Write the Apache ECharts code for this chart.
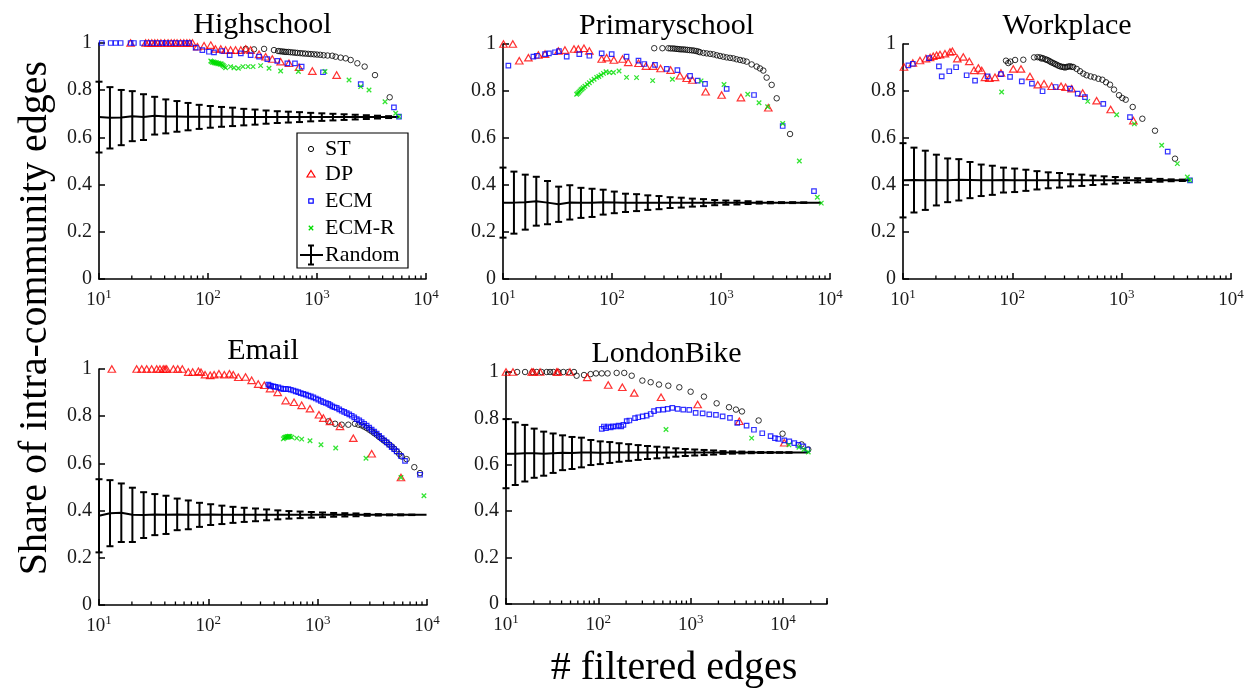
<!DOCTYPE html>
<html>
<head>
<meta charset="utf-8">
<script src="https://cdn.jsdelivr.net/npm/echarts@6/dist/echarts.min.js"></script>
<style>
  html, body { margin: 0; padding: 0; background: #fff; }
  #chart { width: 1253px; height: 694px; }
</style>
</head>
<body>
<div id="chart"></div>
<script>
// ---- shared sampling points of the random-filter baseline ----
const RANDOM_STEPS = [10,12.6,16.0,20.2,25.6,32.4,41.0,51.9,65.6,83.0,105,133,168,213,270,341,432,546,691,875,1107,1400,1772,2242,2836,3588,4539,5743,7265,9191,11627,14710,18610];

const PANEL_TITLES = ['Highschool', 'Primaryschool', 'Workplace', 'Email', 'LondonBike'];
const X_MAX = [10000, 10000, 10000, 10000, 30000];
const TOTAL_EDGES = [5650, 8318, 4217, 9900, 18800];
const Y_TICKS = [0, 0.2, 0.4, 0.6, 0.8, 1];

// ---- Highschool ----
const highschoolST = [[222,0.975],[264,0.973],[327,0.975],[403,0.970],[440,0.966],[460,0.965],[480,0.964],[500,0.963],[520,0.962],[545,0.962],[570,0.961],[600,0.960],[630,0.959],[660,0.958],[700,0.957],[740,0.956],[780,0.955],[830,0.954],[880,0.953],[940,0.952],[1000,0.951],[1070,0.950],[1150,0.948],[1250,0.947],[1380,0.946],[1483,0.942],[1648,0.938],[1833,0.935],[2037,0.928],[2346,0.914],[2737,0.900],[3404,0.864],[4645,0.770]];
const highschoolDP = [[19.5,1],[26.8,1],[28.5,1],[30.5,1],[32.5,1],[34.5,1],[37,1],[40,1],[43,1],[46,1],[49,1],[52,1],[56,1],[60,1],[64,1],[68,1],[72,1],[80,0.984],[92,0.988],[106,0.991],[117,0.975],[131,0.975],[145,0.970],[161,0.970],[179,0.970],[200,0.970],[222,0.975],[246,0.970],[294,0.952],[338,0.942],[389,0.932],[464,0.921],[553,0.914],[684,0.897],[906,0.881],[1514,0.864]];
const highschoolECM = [[10.6,1],[12.8,1],[14.2,1],[15.8,1],[19.5,1],[20.9,1],[25,1],[27.8,1],[30.8,1],[34.3,1],[38.1,1],[40.9,1],[45.4,1],[50.5,1],[56.1,1],[62.4,1],[67,1],[77,0.980],[88.7,0.970],[102,0.963],[113.5,0.960],[135,0.966],[158,0.949],[200,0.956],[246,0.949],[294,0.942],[350,0.932],[432,0.924],[535,0.914],[628,0.914],[723,0.900],[1135,0.876],[2518,0.826],[5080,0.727],[5650,0.688]];
const highschoolECMR = [[106,0.924],[108,0.921],[110,0.918],[112,0.920],[114,0.916],[116,0.918],[118,0.914],[120,0.916],[123,0.912],[126,0.914],[129,0.910],[132,0.912],[135,0.908],[138,0.905],[141,0.900],[145,0.895],[161,0.900],[173,0.895],[190,0.893],[209,0.900],[233,0.900],[259,0.900],[304,0.904],[363,0.893],[464,0.881],[675,0.879],[1183,0.879],[1967,0.843],[2518,0.815],[3001,0.801],[4207,0.751],[5270,0.702],[5650,0.688]];
const highschoolRandMean = [0.686,0.683,0.684,0.690,0.686,0.692,0.689,0.689,0.688,0.687,0.687,0.687,0.687,0.686,0.686,0.686,0.686,0.686,0.686,0.686,0.686,0.686,0.686,0.686,0.686,0.686,0.686,0.686];
const highschoolRandErr = [0.150,0.130,0.117,0.106,0.097,0.080,0.072,0.065,0.058,0.051,0.046,0.042,0.039,0.035,0.032,0.028,0.025,0.023,0.021,0.018,0.016,0.014,0.012,0.010,0.008,0.006,0.004,0];

// ---- Primaryschool ----
const primaryST = [[244,0.982],[290,0.982],[329,0.982],[345,0.981],[362,0.981],[378,0.980],[395,0.979],[412,0.978],[430,0.977],[450,0.977],[470,0.976],[492,0.975],[515,0.974],[540,0.973],[565,0.972],[592,0.970],[620,0.968],[641,0.965],[690,0.962],[739,0.960],[795,0.958],[851,0.956],[915,0.952],[980,0.949],[1050,0.946],[1127,0.943],[1210,0.941],[1297,0.939],[1390,0.935],[1494,0.932],[1600,0.929],[1719,0.925],[1910,0.913],[2124,0.904],[2279,0.896],[2445,0.887],[2623,0.857],[2917,0.826],[3243,0.769],[4299,0.617]];
const primaryDP = [[10.1,1],[12.3,1],[14.1,0.929],[17.1,0.942],[21.1,0.953],[24.3,0.957],[32.2,0.970],[37,0.974],[44.8,0.979],[49.1,0.979],[55.3,0.982],[62,0.970],[80.4,0.936],[89.3,0.942],[104,0.932],[125,0.936],[141,0.922],[175,0.918],[205,0.906],[239,0.906],[279,0.896],[345,0.889],[420,0.865],[484,0.854],[546,0.847],[723,0.797],[1013,0.783],[1524,0.772],[2716,0.729]];
const primaryECM = [[11.2,0.908],[19,0.946],[20.4,0.950],[24.3,0.957],[26.4,0.960],[30,0.965],[32.6,0.970],[38.4,0.946],[50.1,0.957],[62,0.950],[80.4,0.960],[99.3,0.957],[136,0.946],[175,0.929],[198,0.915],[248,0.911],[318,0.894],[398,0.889],[520,0.864],[611,0.844],[713,0.830],[1127,0.809],[2009,0.783],[3681,0.651],[7130,0.374]];
const primaryECMR = [[47.4,0.786],[48.5,0.790],[49.6,0.795],[50.8,0.800],[52,0.805],[53.2,0.809],[54.5,0.814],[56.5,0.820],[59.4,0.828],[62,0.835],[65,0.843],[68.5,0.850],[72.3,0.858],[75.7,0.862],[79.3,0.868],[83.5,0.875],[88.2,0.882],[94.6,0.879],[103,0.879],[116,0.885],[136,0.858],[168,0.857],[236,0.844],[358,0.850],[656,0.843],[1066,0.828],[1759,0.786],[2233,0.750],[2679,0.733],[3681,0.662],[5233,0.502],[7650,0.348],[8318,0.323]];
const primaryRandMean = [0.325,0.325,0.327,0.331,0.325,0.318,0.326,0.324,0.324,0.327,0.326,0.324,0.325,0.325,0.325,0.325,0.325,0.325,0.325,0.325,0.325,0.325,0.325,0.325,0.325,0.325,0.325,0.325,0.325];
const primaryRandErr = [0.149,0.132,0.117,0.104,0.092,0.075,0.073,0.064,0.060,0.053,0.046,0.039,0.036,0.031,0.028,0.023,0.021,0.017,0.015,0.011,0.009,0.008,0.006,0.004,0.003,0.002,0.002,0.001,0];

// ---- Workplace ----
const workplaceST = [[87.5,0.929],[91.8,0.919],[96,0.925],[106,0.932],[126,0.933],[158,0.943],[170,0.944],[179,0.943],[185,0.938],[190,0.940],[200,0.935],[206,0.933],[213,0.930],[221,0.926],[228,0.922],[237,0.919],[245,0.915],[254,0.912],[263,0.908],[273,0.905],[283,0.903],[293,0.902],[303,0.900],[314,0.902],[325,0.904],[337,0.905],[349,0.903],[361,0.902],[388,0.894],[416,0.884],[446,0.874],[478,0.867],[520,0.862],[562,0.858],[612,0.852],[666,0.848],[719,0.837],[782,0.827],[851,0.806],[946,0.782],[1014,0.770],[1089,0.763],[1262,0.732],[1546,0.682],[2018,0.631],[3076,0.512]];
const workplaceDP = [[10.2,0.902],[12.3,0.919],[14.3,0.930],[16.2,0.938],[17.7,0.943],[18.9,0.948],[20.3,0.952],[21.8,0.955],[24.2,0.959],[26.9,0.966],[28.3,0.969],[31.4,0.938],[35.6,0.945],[40.4,0.926],[44.6,0.888],[48.9,0.898],[52.5,0.887],[56.2,0.858],[61.6,0.855],[69.4,0.858],[78.7,0.877],[102,0.894],[120,0.894],[145,0.862],[171,0.827],[195,0.831],[229,0.820],[279,0.820],[307,0.816],[349,0.810],[440,0.791],[590,0.759],[793,0.721],[1279,0.674]];
const workplaceECM = [[11.2,0.909],[12.3,0.916],[17.3,0.940],[21.3,0.905],[22.6,0.862],[26.5,0.884],[30.6,0.901],[38.2,0.867],[45.6,0.844],[59.4,0.862],[78.7,0.872],[95.3,0.860],[122,0.841],[151,0.831],[189,0.799],[249,0.817],[337,0.810],[396,0.789],[462,0.774],[679,0.745],[1191,0.689],[2636,0.542],[4217,0.420]];
const workplaceECMR = [[79.8,0.796],[489,0.756],[900,0.699],[1306,0.660],[2323,0.569],[3228,0.491],[3990,0.434],[4217,0.420]];
const workplaceRandMean = [0.420,0.421,0.420,0.421,0.420,0.422,0.421,0.420,0.420,0.421,0.420,0.420,0.420,0.420,0.420,0.420,0.420,0.420,0.420,0.420,0.420,0.420,0.420,0.420,0.420,0.420,0.420];
const workplaceRandErr = [0.158,0.138,0.126,0.108,0.093,0.088,0.077,0.067,0.062,0.053,0.050,0.045,0.039,0.034,0.031,0.026,0.024,0.020,0.017,0.014,0.011,0.009,0.007,0.006,0.004,0.003,0];

// ---- Email ----
const emailST = [[1253,0.778],[1442,0.768],[1659,0.764],[1907,0.764],[2193,0.768],[2360,0.764],[2525,0.761],[2660,0.756],[2806,0.750],[2960,0.743],[3119,0.736],[3290,0.728],[3466,0.721],[3650,0.712],[3850,0.704],[4060,0.696],[4277,0.689],[4510,0.680],[4752,0.672],[5010,0.662],[5280,0.651],[5570,0.640],[5865,0.629],[6516,0.618],[7654,0.584],[8630,0.559]];
const emailDP = [[13.1,1],[22.1,1],[24.6,1],[27.3,1],[30.3,1],[33.7,1],[36.1,1],[38.7,1],[40.2,1],[41.6,1],[47.9,1],[52.5,1],[57.8,1],[65.6,0.987],[71.9,0.987],[81.1,0.990],[85.7,0.986],[93.3,0.976],[104,0.973],[113,0.976],[125,0.980],[140,0.976],[156,0.980],[169,0.976],[188,0.965],[219,0.966],[249,0.952],[286,0.936],[325,0.931],[367,0.917],[431,0.901],[510,0.866],[608,0.859],[714,0.846],[851,0.832],[1028,0.806],[1127,0.792],[1297,0.778],[1600,0.757],[2118,0.707],[3119,0.641],[5780,0.540]];
const emailECM = [[354,0.934],[365,0.930],[375,0.928],[393,0.926],[410,0.924],[437,0.922],[460,0.918],[485,0.915],[510,0.916],[539,0.915],[568,0.912],[599,0.909],[630,0.905],[665,0.902],[700,0.898],[739,0.895],[780,0.891],[822,0.887],[866,0.884],[913,0.880],[962,0.875],[1014,0.870],[1070,0.865],[1127,0.860],[1190,0.856],[1253,0.852],[1305,0.847],[1362,0.842],[1425,0.838],[1492,0.835],[1575,0.829],[1659,0.823],[1750,0.818],[1843,0.813],[1945,0.808],[2048,0.802],[2160,0.795],[2276,0.788],[2400,0.782],[2525,0.775],[2660,0.768],[2806,0.760],[2960,0.752],[3119,0.743],[3290,0.735],[3466,0.726],[3650,0.717],[3850,0.707],[4060,0.698],[4277,0.689],[4510,0.679],[4752,0.669],[5010,0.660],[5280,0.651],[5760,0.632],[6295,0.611],[8630,0.552]];
const emailECMR = [[485,0.704],[495,0.708],[502,0.710],[511,0.712],[520,0.711],[529,0.714],[538,0.713],[548,0.715],[558,0.714],[578,0.711],[643,0.707],[714,0.703],[851,0.696],[1072,0.679],[1462,0.665],[2767,0.622],[5780,0.540],[9376,0.463]];
const emailRandMean = [0.378,0.389,0.391,0.382,0.381,0.383,0.382,0.384,0.382,0.382,0.383,0.382,0.382,0.382,0.382,0.382,0.382,0.382,0.382,0.382,0.382,0.382,0.382,0.382,0.382,0.382,0.382,0.382,0.382,0.382];
const emailRandErr = [0.155,0.140,0.124,0.115,0.097,0.087,0.081,0.067,0.061,0.051,0.044,0.039,0.034,0.030,0.027,0.023,0.019,0.016,0.014,0.012,0.010,0.008,0.007,0.006,0.004,0.003,0.002,0.002,0.001,0];

// ---- LondonBike ----
const bikeST = [[13.2,1],[16.1,1],[19.4,1],[21.5,1],[24.3,1],[27.6,1],[30,1],[32.6,1],[36.9,1],[41.8,1],[47.3,1],[54.5,1],[58.2,0.984],[70,0.987],[82.6,0.991],[94.4,0.994],[109,0.994],[126,0.994],[158,0.996],[191,0.996],[230,0.984],[300,0.963],[369,0.956],[454,0.946],[573,0.941],[754,0.934],[1000,0.915],[1394,0.894],[1913,0.865],[2603,0.848],[3097,0.838],[3597,0.830],[5450,0.791],[9900,0.734],[15900,0.688],[18800,0.666]];
const bikeDP = [[10,1],[11.9,1],[19,1],[19.8,1],[23.4,1],[35.4,1],[36.5,1],[49.3,1],[76,0.977],[128,0.944],[182,0.934],[245,0.910],[478,0.891],[1191,0.860],[3366,0.788],[10330,0.695]];
const bikeECM = [[109,0.755],[115,0.765],[121,0.758],[128,0.765],[136,0.761],[145,0.766],[155,0.765],[166,0.769],[177,0.766],[187,0.772],[203,0.788],[217,0.791],[250,0.801],[271,0.805],[302,0.809],[334,0.812],[369,0.819],[401,0.831],[446,0.837],[506,0.838],[564,0.841],[633,0.845],[723,0.841],[833,0.838],[967,0.837],[1133,0.824],[1349,0.822],[1592,0.817],[1880,0.815],[2221,0.809],[2667,0.802],[3199,0.781],[4036,0.769],[4849,0.751],[5966,0.736],[7345,0.724],[8185,0.715],[8892,0.712],[10330,0.705],[11710,0.701],[13280,0.693],[14670,0.686],[16610,0.679],[18350,0.666]];
const bikeECMR = [[541,0.752],[4580,0.715],[11610,0.686],[14900,0.676],[16870,0.666],[18800,0.655]];
const bikeRandMean = [0.648,0.648,0.650,0.650,0.648,0.650,0.652,0.651,0.653,0.653,0.652,0.653,0.653,0.653,0.653,0.653,0.653,0.653,0.653,0.653,0.653,0.653,0.653,0.653,0.653,0.653,0.653,0.653,0.653,0.653,0.653,0.653];
const bikeRandErr = [0.149,0.135,0.122,0.106,0.095,0.085,0.075,0.069,0.064,0.054,0.049,0.045,0.040,0.036,0.032,0.028,0.025,0.022,0.018,0.015,0.013,0.011,0.009,0.006,0.005,0.004,0.003,0.002,0.002,0.001,0.001,0];

// ---- layout of the five panels (pixel boxes of the plotting areas) ----
const GRIDS = [
  { left: 99,  top: 43, width: 327, height: 236 },
  { left: 503, top: 44, width: 327, height: 235 },
  { left: 903, top: 44, width: 328, height: 235 },
  { left: 99,  top: 369, width: 328, height: 236 },
  { left: 506, top: 372, width: 321, height: 232 }
];

const PANELS = [
  { st: highschoolST, dp: highschoolDP, ecm: highschoolECM, ecmr: highschoolECMR, mean: highschoolRandMean, err: highschoolRandErr },
  { st: primaryST, dp: primaryDP, ecm: primaryECM, ecmr: primaryECMR, mean: primaryRandMean, err: primaryRandErr },
  { st: workplaceST, dp: workplaceDP, ecm: workplaceECM, ecmr: workplaceECMR, mean: workplaceRandMean, err: workplaceRandErr },
  { st: emailST, dp: emailDP, ecm: emailECM, ecmr: emailECMR, mean: emailRandMean, err: emailRandErr },
  { st: bikeST, dp: bikeDP, ecm: bikeECM, ecmr: bikeECMR, mean: bikeRandMean, err: bikeRandErr }
];

const FONT = "'Liberation Serif', 'Times New Roman', serif";
const INK = '#1a1a1a';
const CROSS = 'path://M0,0L10,10M10,0L0,10';

// Positions of the random baseline: sampled steps plus the full edge count.
function randomPoints(i) {
  const p = PANELS[i];
  const xs = RANDOM_STEPS.slice(0, p.mean.length - 1).concat([TOTAL_EDGES[i]]);
  return xs.map((x, k) => [x, p.mean[k], p.err[k]]);
}

// Minor ticks of the log axis at 2..9 times each power of ten.
function minorTickValues(max) {
  const out = [];
  for (let d = 10; d < max; d *= 10) {
    for (let m = 2; m <= 9; m++) {
      if (d * m <= max) out.push([d * m, 0]);
    }
  }
  return out;
}

function renderErrorBar(params, api) {
  const x = api.value(0), m = api.value(1), e = api.value(2);
  const style = { stroke: '#000', lineWidth: 2 };
  if (!(e > 0)) return null;
  const top = api.coord([x, m + e]);
  const bot = api.coord([x, m - e]);
  const h = 3.5;
  return {
    type: 'group',
    children: [
      { type: 'line', shape: { x1: top[0], y1: top[1], x2: bot[0], y2: bot[1] }, style },
      { type: 'line', shape: { x1: top[0] - h, y1: top[1], x2: top[0] + h, y2: top[1] }, style },
      { type: 'line', shape: { x1: bot[0] - h, y1: bot[1], x2: bot[0] + h, y2: bot[1] }, style }
    ]
  };
}

function renderMinorTick(params, api) {
  const p = api.coord([api.value(0), 0]);
  return {
    type: 'line',
    shape: { x1: p[0], y1: p[1], x2: p[0], y2: p[1] - 3.5 },
    style: { stroke: '#000', lineWidth: 1.3 }
  };
}

function logLabel(v) {
  const l = Math.log10(v);
  const e = Math.round(l);
  if (Math.abs(l - e) > 1e-6) return '';
  return '{b|10}{s|' + e + '}';
}

const grid = GRIDS.map(g => Object.assign({ containLabel: false }, g));
const xAxis = [], yAxis = [], series = [], title = [];

GRIDS.forEach((g, i) => {
  title.push({
    text: PANEL_TITLES[i],
    left: g.left + g.width / 2,
    top: g.top - 33,
    textAlign: 'center',
    padding: 0,
    textStyle: { fontFamily: FONT, fontSize: 30, fontWeight: 'normal', color: '#000' }
  });
  xAxis.push({
    type: 'log', logBase: 10, gridIndex: i, min: 10, max: X_MAX[i],
    splitLine: { show: false },
    axisLine: { show: true, lineStyle: { color: '#000', width: 1.6 } },
    axisTick: { show: true, inside: true, length: 6, lineStyle: { color: '#000', width: 1.5 } },
    axisLabel: {
      margin: 9, formatter: logLabel, color: INK,
      rich: {
        b: { fontFamily: FONT, fontSize: 19, lineHeight: 24, color: INK },
        s: { fontFamily: FONT, fontSize: 13, lineHeight: 12, verticalAlign: 'top', color: INK }
      }
    }
  });
  yAxis.push({
    type: 'value', gridIndex: i, min: Y_TICKS[0], max: Y_TICKS[Y_TICKS.length - 1], interval: 0.2,
    splitLine: { show: false },
    axisLine: { show: true, lineStyle: { color: '#000', width: 1.6 } },
    axisTick: { show: true, inside: true, length: 6, lineStyle: { color: '#000', width: 1.5 } },
    axisLabel: { margin: 7, fontFamily: FONT, fontSize: 20, color: INK }
  });

  const p = PANELS[i];
  const rp = randomPoints(i);
  const common = { xAxisIndex: i, yAxisIndex: i, animation: false, silent: true, clip: false };

  series.push(Object.assign({
    name: 'minor', type: 'custom', renderItem: renderMinorTick, data: minorTickValues(X_MAX[i]), z: 1
  }, common));
  series.push(Object.assign({
    name: 'Random', type: 'line', data: rp.map(r => [r[0], r[1]]), showSymbol: false, symbol: 'none',
    lineStyle: { color: '#000', width: 2 }, z: 2
  }, common));
  series.push(Object.assign({
    name: 'RandomErr', type: 'custom', renderItem: renderErrorBar, data: rp, z: 2
  }, common));
  series.push(Object.assign({
    name: 'ST', type: 'scatter', data: p.st, symbol: 'circle', symbolSize: 5.5,
    itemStyle: { color: 'transparent', borderColor: '#000', borderWidth: 1 }, z: 3
  }, common));
  series.push(Object.assign({
    name: 'DP', type: 'scatter', data: p.dp, symbol: 'triangle', symbolSize: [7.5, 6.5],
    itemStyle: { color: 'transparent', borderColor: '#ff0000', borderWidth: 1.2 }, z: 4
  }, common));
  series.push(Object.assign({
    name: 'ECM', type: 'scatter', data: p.ecm, symbol: 'rect', symbolSize: 4.5,
    itemStyle: { color: 'transparent', borderColor: '#0000ff', borderWidth: 1.2 }, z: 5
  }, common));
  series.push(Object.assign({
    name: 'ECM-R', type: 'scatter', data: p.ecmr, symbol: CROSS, symbolSize: 4.5,
    itemStyle: { color: 'transparent', borderColor: '#00dd00', borderWidth: 1.3 }, z: 6
  }, common));
});

// Legend box drawn inside the Highschool panel
const LX = 297, LY = 133, LW = 111, LH = 135;
const legendRows = [
  { label: 'ST', y: 149 },
  { label: 'DP', y: 174 },
  { label: 'ECM', y: 201 },
  { label: 'ECM-R', y: 228 },
  { label: 'Random', y: 255 }
];
const sx = 311;
const legendChildren = [
  { type: 'rect', shape: { x: LX, y: LY, width: LW, height: LH }, style: { fill: '#fff', stroke: '#000', lineWidth: 1.2 } },
  { type: 'circle', shape: { cx: sx, cy: legendRows[0].y, r: 2.6 }, style: { fill: 'none', stroke: '#000', lineWidth: 1 } },
  { type: 'polygon', shape: { points: [[sx, legendRows[1].y - 3.5], [sx + 4, legendRows[1].y + 3], [sx - 4, legendRows[1].y + 3]] }, style: { fill: 'none', stroke: '#ff0000', lineWidth: 1.2 } },
  { type: 'rect', shape: { x: sx - 2.2, y: legendRows[2].y - 2.2, width: 4.4, height: 4.4 }, style: { fill: 'none', stroke: '#0000ff', lineWidth: 1.2 } },
  { type: 'line', shape: { x1: sx - 2.2, y1: legendRows[3].y - 2.2, x2: sx + 2.2, y2: legendRows[3].y + 2.2 }, style: { stroke: '#00dd00', lineWidth: 1.3 } },
  { type: 'line', shape: { x1: sx - 2.2, y1: legendRows[3].y + 2.2, x2: sx + 2.2, y2: legendRows[3].y - 2.2 }, style: { stroke: '#00dd00', lineWidth: 1.3 } },
  { type: 'line', shape: { x1: 300, y1: legendRows[4].y, x2: 323, y2: legendRows[4].y }, style: { stroke: '#000', lineWidth: 2 } },
  { type: 'line', shape: { x1: sx, y1: legendRows[4].y - 9.5, x2: sx, y2: legendRows[4].y + 9.5 }, style: { stroke: '#000', lineWidth: 2 } },
  { type: 'line', shape: { x1: sx - 3, y1: legendRows[4].y - 9.5, x2: sx + 3, y2: legendRows[4].y - 9.5 }, style: { stroke: '#000', lineWidth: 2 } },
  { type: 'line', shape: { x1: sx - 3, y1: legendRows[4].y + 9.5, x2: sx + 3, y2: legendRows[4].y + 9.5 }, style: { stroke: '#000', lineWidth: 2 } }
];
legendRows.forEach(r => {
  legendChildren.push({
    type: 'text', x: 325, y: r.y,
    style: { text: r.label, font: '22px ' + FONT, fill: '#000', textAlign: 'left', textVerticalAlign: 'middle' }
  });
});

const graphic = [
  { type: 'group', z: 100, children: legendChildren },
  {
    type: 'text', x: 35, y: 318, rotation: Math.PI / 2, z: 100,
    style: { text: 'Share of intra-community edges', font: '40px ' + FONT, fill: '#000', textAlign: 'center', textVerticalAlign: 'middle' }
  },
  {
    type: 'text', x: 674, y: 668, z: 100,
    style: { text: '# filtered edges', font: '40px ' + FONT, fill: '#000', textAlign: 'center', textVerticalAlign: 'middle' }
  }
];

const chart = echarts.init(document.getElementById('chart'), null, { renderer: 'canvas' });
chart.setOption({
  backgroundColor: '#fff',
  animation: false,
  title, grid, xAxis, yAxis, series, graphic,
  tooltip: { show: false }
});
</script>
</body>
</html>
